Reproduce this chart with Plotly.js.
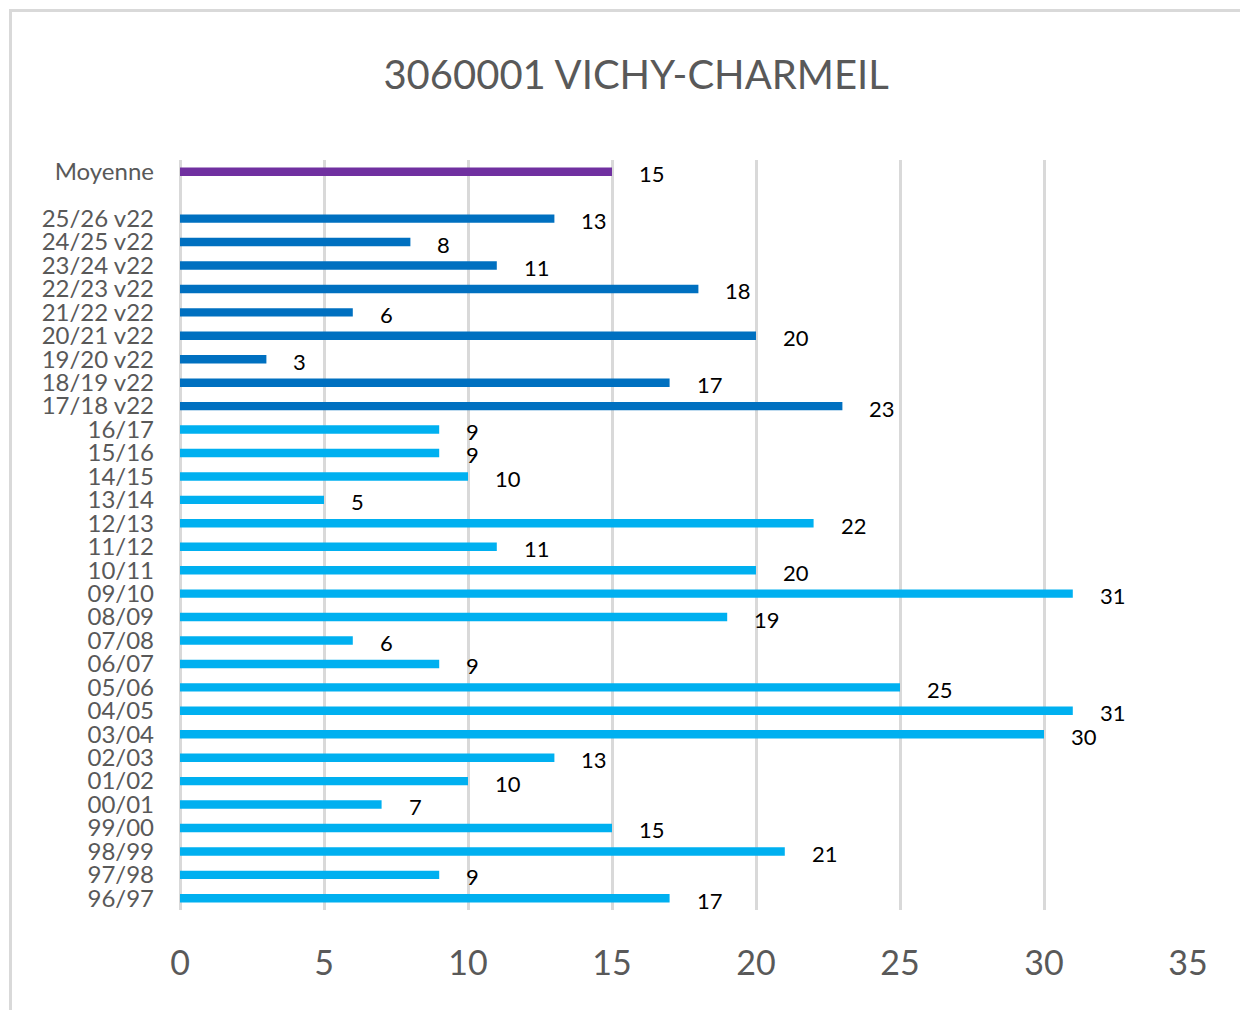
<!DOCTYPE html>
<html>
<head>
<meta charset="utf-8">
<script src="https://cdn.plot.ly/plotly-3.0.1.min.js"></script>
<style>
  html, body { margin: 0; padding: 0; background: #fff; }
  #wrap { position: relative; width: 1240px; height: 1010px; overflow: hidden; }
  #frame { position: absolute; left: 9px; top: 9px; width: 1300px; height: 1100px;
           border-top: 3px solid #D9D9D9; border-left: 3px solid #D9D9D9; pointer-events: none; }
  #chart { position: absolute; left: 0; top: 0; width: 1240px; height: 1010px; }
</style>
</head>
<body>
<div id="wrap">
  <div id="frame"></div>
  <div id="chart"></div>
</div>
<script>
// Data (bottom to top)
const seasonLabels = ["96/97","97/98","98/99","99/00","00/01","01/02","02/03","03/04","04/05","05/06",
                      "06/07","07/08","08/09","09/10","10/11","11/12","12/13","13/14","14/15","15/16","16/17"];
const seasonValues = [17, 9, 21, 15, 7, 10, 13, 30, 31, 25,
                      9, 6, 19, 31, 20, 11, 22, 5, 10, 9, 9];
const v22Labels = ["17/18 v22","18/19 v22","19/20 v22","20/21 v22","21/22 v22","22/23 v22","23/24 v22","24/25 v22","25/26 v22"];
const v22Values = [23, 17, 3, 20, 6, 18, 11, 8, 13];
const gapLabel = [" "];
const meanLabel = ["Moyenne"];
const meanValue = [15];
const xTicks = [0, 5, 10, 15, 20, 25, 30, 35];
const titleText = "3060001 VICHY-CHARMEIL";

const categoryOrder = seasonLabels.concat(v22Labels, gapLabel, meanLabel);
const FONT = "Lato, 'Liberation Sans', sans-serif";
const BARW = 0.36;

const traces = [
  { type: "bar", orientation: "h", y: seasonLabels, x: seasonValues, width: BARW,
    marker: { color: "#00B0F0" }, hoverinfo: "x+y" },
  { type: "bar", orientation: "h", y: v22Labels, x: v22Values, width: BARW,
    marker: { color: "#0070C0" }, hoverinfo: "x+y" },
  { type: "bar", orientation: "h", y: gapLabel, x: [null], width: BARW,
    marker: { color: "rgba(0,0,0,0)" }, hoverinfo: "skip" },
  { type: "bar", orientation: "h", y: meanLabel, x: meanValue, width: BARW,
    marker: { color: "#7030A0" }, hoverinfo: "x+y" }
];

const annotations = [];
function addLabels(labels, values) {
  labels.forEach((c, i) => {
    annotations.push({ x: values[i], y: c, xref: "x", yref: "y", text: String(values[i]),
      showarrow: false, xanchor: "left", yanchor: "middle", xshift: 25, yshift: -2,
      font: { family: FONT, size: 22, color: "#000000" } });
  });
}
addLabels(seasonLabels, seasonValues);
addLabels(v22Labels, v22Values);
addLabels(meanLabel, meanValue);

const layout = {
  width: 1240, height: 1010,
  paper_bgcolor: "rgba(0,0,0,0)", plot_bgcolor: "rgba(0,0,0,0)",
  margin: { l: 180, r: 52, t: 160, b: 100, pad: 0 },
  showlegend: false,
  barmode: "overlay",
  title: { text: titleText, xref: "container", yref: "container", x: 0.513, y: 0.926,
           xanchor: "center", yanchor: "middle",
           font: { family: FONT, size: 40, color: "#595959" } },
  xaxis: { range: [0, 35], tickmode: "array", tickvals: xTicks, ticktext: xTicks.map(String),
           showgrid: true, gridcolor: "#D9D9D9", gridwidth: 3,
           zeroline: true, zerolinecolor: "#D9D9D9", zerolinewidth: 3,
           showline: false, ticks: "", ticklabelstandoff: 30,
           tickfont: { family: FONT, size: 34, color: "#595959" }, fixedrange: true },
  yaxis: { type: "category", categoryorder: "array", categoryarray: categoryOrder,
           tickmode: "array", tickvals: categoryOrder, ticktext: categoryOrder,
           range: [-0.5, categoryOrder.length - 0.5],
           showgrid: false, zeroline: false, showline: false, ticks: "",
           ticklabelstandoff: 25,
           tickfont: { family: FONT, size: 24, color: "#595959" }, fixedrange: true },
  annotations: annotations
};

Plotly.newPlot("chart", traces, layout, { displayModeBar: false, staticPlot: true });
</script>
</body>
</html>
